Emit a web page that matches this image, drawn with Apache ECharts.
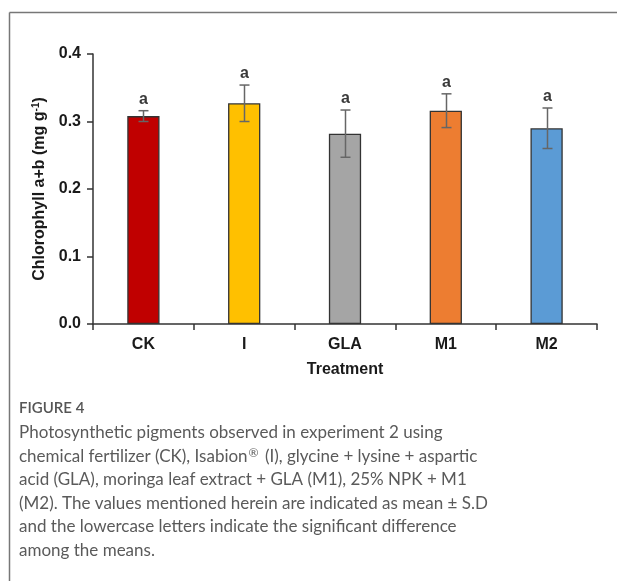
<!DOCTYPE html>
<html><head><meta charset="utf-8">
<script src="https://cdn.jsdelivr.net/npm/echarts@6/dist/echarts.min.js"></script>
<style>html,body{margin:0;padding:0;background:#fff;}#c{width:617px;height:581px;}</style>
</head><body><div id="c"></div>
<script>
const categories = ['CK', 'I', 'GLA', 'M1', 'M2'];
const means = [0.308, 0.327, 0.282, 0.316, 0.290];
const sds = [0.008, 0.027, 0.035, 0.025, 0.030];
const letters = ['a', 'a', 'a', 'a', 'a'];
const barColors = ['#C00000', '#FFC000', '#A5A5A5', '#ED7D31', '#5B9BD5'];
const yTicks = [0, 0.1, 0.2, 0.3, 0.4];
const captionTitle = 'FIGURE 4';
const captionLines = [
  'Photosynthetic pigments observed in experiment 2 using',
  'chemical fertilizer (CK), Isabion{sup|®} (I), glycine + lysine + aspartic',
  'acid (GLA), moringa leaf extract + GLA (M1), 25% NPK + M1',
  '(M2). The values mentioned herein are indicated as mean ± S.D',
  'and the lowercase letters indicate the significant difference',
  'among the means.'
];

const chart = echarts.init(document.getElementById('c'), null, {renderer: 'canvas'});
const FF = '"Liberation Sans", Arial, sans-serif';
const axisFont = {fontFamily: FF, fontWeight: 'bold', fontSize: 16, color: '#1a1a1a'};
const CF = 'Lato, "Open Sans", sans-serif';

const captionGraphics = [
  {type: 'text', left: 19, top: 401, style: {text: captionTitle, font: '600 15px Lato, "Open Sans", sans-serif', fill: '#555'}}
];
captionLines.forEach((t, i) => {
  captionGraphics.push({type: 'text', left: 19, top: 422 + i * 23.5,
    style: {text: t, fontFamily: CF, fontSize: 17, lineHeight: 22, fill: '#5a5a5a',
      rich: {sup: {fontFamily: CF, fontSize: 12, lineHeight: 22, fill: '#5a5a5a', padding: [0, 2, 7, 1]}}}});
});

chart.setOption({
  animation: false,
  grid: {left: 93, right: 20, top: 54, bottom: 257},
  graphic: [
    {type: 'line', shape: {x1: 9.5, y1: 12.5, x2: 617, y2: 12.5}, style: {stroke: '#777', lineWidth: 1.5}},
    {type: 'line', shape: {x1: 9.5, y1: 12.5, x2: 9.5, y2: 581}, style: {stroke: '#777', lineWidth: 1.5}}
  ].concat(captionGraphics),
  xAxis: {
    type: 'category', data: categories,
    name: 'Treatment', nameLocation: 'middle', nameGap: 38,
    nameTextStyle: Object.assign({}, axisFont),
    axisLine: {lineStyle: {color: '#333', width: 1.5}},
    axisTick: {show: true, alignWithLabel: false, length: 6, lineStyle: {color: '#333', width: 1.5}},
    axisLabel: Object.assign({}, axisFont, {margin: 13}),
    splitLine: {show: false}
  },
  yAxis: {
    type: 'value', min: 0, max: 0.4, interval: 0.1,
    name: 'Chlorophyll a+b (mg g{sup|-1})', nameLocation: 'middle', nameGap: 42, nameRotate: 90,
    nameTextStyle: Object.assign({}, axisFont, {rich: {sup: {fontSize: 10, fontWeight: 'bold', verticalAlign: 'top', padding: [0, 0, 7, 0], fontFamily: FF, color: '#1a1a1a'}}}),
    axisLine: {show: true, lineStyle: {color: '#333', width: 1.5}},
    axisTick: {show: true, inside: false, length: 6, lineStyle: {color: '#333', width: 1.5}},
    axisLabel: Object.assign({}, axisFont, {margin: 12, formatter: v => v.toFixed(1)}),
    splitLine: {show: false}
  },
  series: [
    {
      type: 'bar', barWidth: '32%',
      data: means.map((v, i) => ({value: v, itemStyle: {color: barColors[i]}})),
      itemStyle: {borderColor: '#333', borderWidth: 1.3}
    },
    {
      type: 'custom', z: 10,
      data: means.map((m, i) => [i, m - sds[i], m + sds[i]]),
      renderItem: function (params, api) {
        const lo = api.coord([api.value(0), api.value(1)]);
        const hi = api.coord([api.value(0), api.value(2)]);
        const x = Math.round(lo[0]) + 0.5;
        const cap = 5;
        const st = {stroke: '#666', lineWidth: 1.5};
        return {type: 'group', children: [
          {type: 'line', shape: {x1: x, y1: lo[1], x2: x, y2: hi[1]}, style: st},
          {type: 'line', shape: {x1: x - cap, y1: lo[1], x2: x + cap, y2: lo[1]}, style: st},
          {type: 'line', shape: {x1: x - cap, y1: hi[1], x2: x + cap, y2: hi[1]}, style: st},
          {type: 'text', x: x, y: hi[1] - 3, style: {text: letters[params.dataIndex], textAlign: 'center', textVerticalAlign: 'bottom',
            font: 'bold 16px "Liberation Sans", Arial, sans-serif', fill: '#3a3a3a'}}
        ]};
      }
    }
  ]
});
</script></body></html>
